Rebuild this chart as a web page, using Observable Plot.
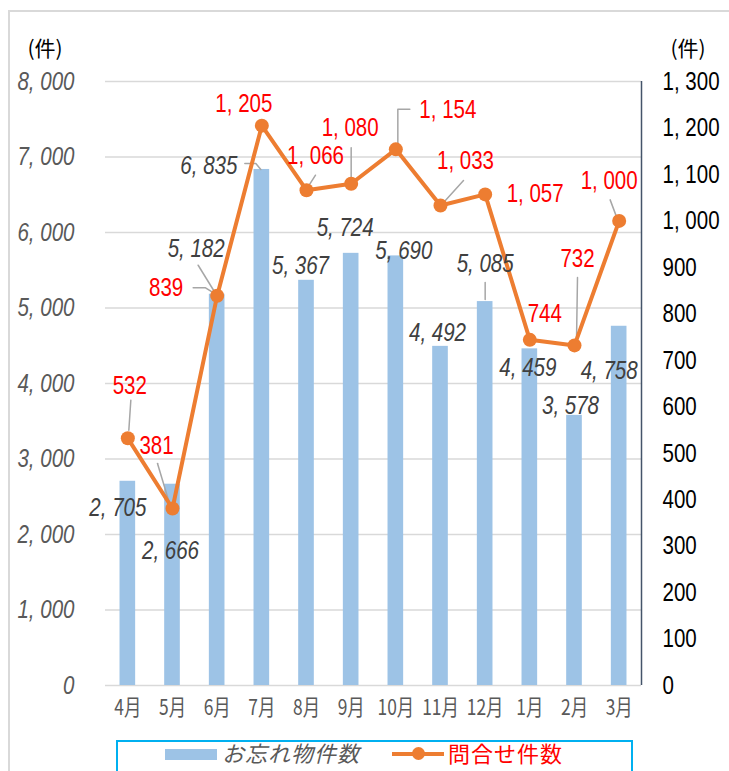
<!DOCTYPE html>
<html>
<head>
<meta charset="utf-8">
<script src="https://cdn.jsdelivr.net/npm/d3@7"></script>
<script src="https://cdn.jsdelivr.net/npm/@observablehq/plot@0.6"></script>
<style>
  body { margin: 0; background: #fff; }
  #wrap { position: relative; width: 729px; height: 771px; overflow: hidden; }
  #frame { position: absolute; left: 8px; top: 10px; width: 721px; height: 761px;
           border-top: 2px solid #d9d9d9; border-left: 2px solid #d9d9d9; box-sizing: border-box; }
  #chart { position: absolute; left: 0; top: 0; }
  #legend { position: absolute; left: 116px; top: 740px; width: 517px; height: 31px;
            border: 2px solid #00b0f0; border-bottom: none; box-sizing: border-box; background: #fff;
            font-family: "Noto Sans CJK JP", sans-serif; font-size: 22px; }
  .lg { position: absolute; top: -3px; line-height: 27px; white-space: nowrap; }
</style>
</head>
<body>
<div id="wrap">
  <div id="frame"></div>
  <div id="chart"></div>
  <div id="legend">
    <div class="lg" style="left:47px;top:7px;width:52px;height:11px;background:#9dc3e6;"></div>
    <div class="lg" id="lg1" style="left:104px;color:#595959;font-style:italic;letter-spacing:1px;"></div>
    <div class="lg" style="left:274px;top:10px;width:52px;height:4px;background:#ed7d31;"></div>
    <div class="lg" style="left:294px;top:5px;width:13px;height:13px;border-radius:50%;background:#ed7d31;"></div>
    <div class="lg" id="lg2" style="left:330px;color:#ff0000;letter-spacing:1px;"></div>
  </div>
</div>
<script>
// ---- data ----
const months = ["4月","5月","6月","7月","8月","9月","10月","11月","12月","1月","2月","3月"];
const lostItems = [2705, 2666, 5182, 6835, 5367, 5724, 5690, 4492, 5085, 4459, 3578, 4758];
const inquiries = [532, 381, 839, 1205, 1066, 1080, 1154, 1033, 1057, 744, 732, 1000];
const leftTicks = [0, 1000, 2000, 3000, 4000, 5000, 6000, 7000, 8000];
const rightTicks = [0, 100, 200, 300, 400, 500, 600, 700, 800, 900, 1000, 1100, 1200, 1300];
const leftMax = 8000, rightMax = 1300;
const seriesNames = ["お忘れ物件数", "問合せ件数"];
const unitLabel = "(件)";

// ---- layout (pixel offsets of data labels / leader lines relative to their data point) ----
const W = 729, H = 735, mL = 105, mR = 88, mT = 81, mB = 50;
const condense = 0.79;
const barLabelOffsets = [[-10,26],[-2,66],[-21,-46],[-53,-4],[-6,-15],[-6,-26],[8,-5],[-3,-14],[0,-38],[-2,19],[-4,-10],[-10,44]];
const lineLabelOffsets = [[2,-53],[-16,-63],[-51,-8],[-18,-22],[9,-35],[-1,-56],[52,-40],[25,-45],[50,-1],[15,-26],[3,-87],[-10,-40]];
const barLeaders = [
  {i: 2, pts: [[-19,-29],[-3,-3]]},
  {i: 3, pts: [[-17,-6],[-6,-6],[-1,0]]},
  {i: 8, pts: [[0,-19],[0,-2]]}
];
const lineLeaders = [
  {i: 0, pts: [[3,-38],[1,-8]]},
  {i: 1, pts: [[-15,-45],[-3,-5]]},
  {i: 2, pts: [[-24,-8],[-12,-8],[-4,-3]]},
  {i: 4, pts: [[9,-15],[2,-4]]},
  {i: 5, pts: [[0,-36],[0,-5]]},
  {i: 6, pts: [[14,-40],[2,-40],[2,-6]]},
  {i: 7, pts: [[23,-25],[4,-4]]},
  {i: 10, pts: [[3,-68],[2,-5]]},
  {i: 11, pts: [[-9,-21],[-3,-5]]}
];

document.getElementById("lg1").textContent = seriesNames[0];
document.getElementById("lg2").textContent = seriesNames[1];

const ratio = leftMax / rightMax;
const xStep = (W - mL - mR) / months.length;
const yPx = (H - mT - mB) / leftMax;
const ox = (i, dx) => i + dx / xStep;
const oy = (v, dy) => v - dy / yPx;
const fmt = v => d3.format(",")(v).replace(/,/g, ", ");

const rows = months.map((m, i) => ({i, m, lost: lostItems[i], inq: inquiries[i], inqS: inquiries[i] * ratio}));
const barLabels = rows.map(r => ({x: ox(r.i, barLabelOffsets[r.i][0]), y: oy(r.lost, barLabelOffsets[r.i][1]), t: fmt(r.lost)}));
const lineLabels = rows.map(r => ({x: ox(r.i, lineLabelOffsets[r.i][0]), y: oy(r.inqS, lineLabelOffsets[r.i][1]), t: fmt(r.inq)}));
const leaderRows = [];
barLeaders.forEach((l, k) => l.pts.forEach(p => leaderRows.push({id: "b" + k, x: ox(l.i, p[0]), y: oy(rows[l.i].lost, p[1])})));
lineLeaders.forEach((l, k) => l.pts.forEach(p => leaderRows.push({id: "l" + k, x: ox(l.i, p[0]), y: oy(rows[l.i].inqS, p[1])})));

const numFont = '"Liberation Sans", "Noto Sans CJK JP", sans-serif';
const cjkFont = '"Noto Sans CJK JP", sans-serif';

const chart = Plot.plot({
  width: W, height: H,
  marginLeft: mL, marginRight: mR, marginTop: mT, marginBottom: mB,
  style: {fontFamily: numFont, background: "transparent", overflow: "visible"},
  x: {type: "linear", domain: [-0.5, months.length - 0.5], axis: null},
  y: {domain: [0, leftMax], axis: null},
  marks: [
    Plot.ruleY(leftTicks, {stroke: "#d9d9d9", strokeWidth: 1.5}),
    Plot.axisY(leftTicks, {anchor: "left", tickSize: 0, tickPadding: 31, label: null,
      tickFormat: fmt, fontSize: 26, fontStyle: "italic", color: "#595959", fontFamily: numFont}),
    Plot.axisY(rightTicks.map(v => v * ratio), {anchor: "right", tickSize: 0, tickPadding: 21, label: null,
      tickFormat: d => fmt(Math.round(d / ratio)), fontSize: 26, color: "#000", fontFamily: numFont}),
    Plot.axisX(d3.range(months.length), {anchor: "bottom", tickSize: 0, tickPadding: 14, label: null,
      tickFormat: i => months[i], fontSize: 22, color: "#595959", fontFamily: cjkFont}),
    Plot.rectY(rows, {x1: d => d.i - 0.175, x2: d => d.i + 0.175, y1: 0, y2: "lost", fill: "#9dc3e6"}),
    Plot.ruleX([months.length - 0.5], {y1: 0, y2: leftMax, stroke: "#44546a", strokeWidth: 1.5}),
    Plot.line(leaderRows, {x: "x", y: "y", z: "id", stroke: "#a6a6a6", strokeWidth: 1.5}),
    Plot.line(rows, {x: "i", y: "inqS", stroke: "#ed7d31", strokeWidth: 4, strokeLinejoin: "round"}),
    Plot.dot(rows, {x: "i", y: "inqS", r: 7, fill: "#ed7d31", stroke: "none"}),
    Plot.text(barLabels, {x: "x", y: "y", text: "t", fontSize: 26, fontStyle: "italic", fill: "#404040", fontFamily: numFont}),
    Plot.text(lineLabels, {x: "x", y: "y", text: "t", fontSize: 26, fill: "#ff0000", fontFamily: numFont}),
    Plot.text([unitLabel], {frameAnchor: "top-left", dx: -78, dy: -40, textAnchor: "start", fontSize: 21, fill: "#000", fontFamily: cjkFont}),
    Plot.text([unitLabel], {frameAnchor: "top-right", dx: 29, dy: -40, textAnchor: "start", fontSize: 21, fill: "#000", fontFamily: cjkFont})
  ]
});

// condensed look of the original UI font: squeeze text horizontally around its anchor
d3.select(chart).selectAll("text").each(function() {
  if (this.textContent === unitLabel) return;
  const t = this.getAttribute("transform");
  if (t) {
    this.setAttribute("transform", t + ` scale(${condense},1)`);
  } else {
    const x = +(this.getAttribute("x") || 0), y = +(this.getAttribute("y") || 0);
    this.setAttribute("x", 0); this.setAttribute("y", 0);
    this.setAttribute("transform", `translate(${x},${y}) scale(${condense},1)`);
  }
});
document.getElementById("chart").appendChild(chart);
</script>
</body>
</html>
